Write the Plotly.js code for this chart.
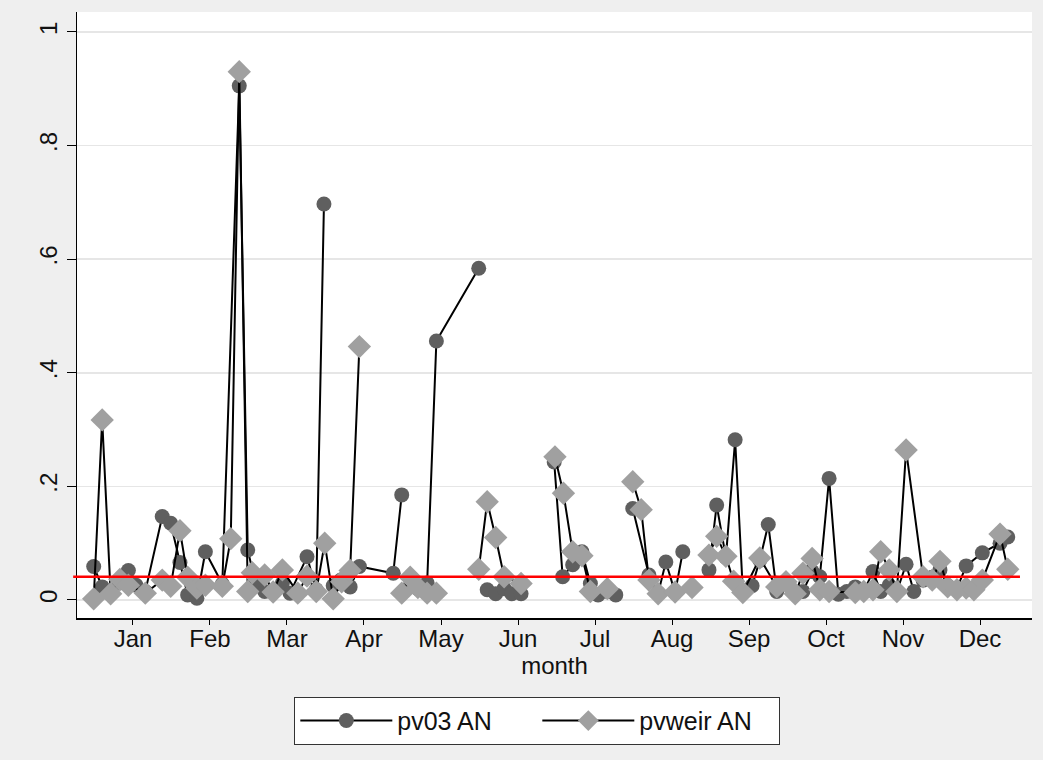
<!DOCTYPE html>
<html>
<head>
<meta charset="utf-8">
<script src="https://cdn.plot.ly/plotly-3.0.1.min.js"></script>
<style>
  html, body { margin: 0; padding: 0; background: #efefef; }
  #chart { width: 1043px; height: 760px; }
</style>
</head>
<body>
<div id="chart"></div>
<script>
// month ticks
const monthTicks = [1, 2, 3, 4, 5, 6, 7, 8, 9, 10, 11, 12];
const monthLabels = ["Jan", "Feb", "Mar", "Apr", "May", "Jun", "Jul", "Aug", "Sep", "Oct", "Nov", "Dec"];
const yTicks = [0, 0.2, 0.4, 0.6, 0.8, 1];
const yTickLabels = ["0", ".2", ".4", ".6", ".8", "1"];

// reference level (red line)
const threshold = 0.041;

// pv03 AN (null = break in line)
const pv03Month = [0.49, 0.60, 0.71, 0.82, 0.94, 1.04, 1.16, 1.38, 1.49, 1.61, 1.71, 1.83, 1.94, 2.16, 2.38, 2.49, 2.60, 2.71, 2.94, 3.04, 3.26, 3.38, 3.48, 3.54,
  3.60, 3.70, 3.82, 3.94, 4.38, 4.49, 4.54,
  4.60, 4.70, 4.82, 4.94, 5.49, 5.54,
  5.60, 5.71, 5.82, 5.92, 6.04, 6.30,
  6.47, 6.58, 6.71, 6.83, 6.94, 7.04, 7.16, 7.27, 7.40,
  7.49, 7.70, 7.82, 7.92, 8.04, 8.14, 8.30,
  8.48, 8.58, 8.70, 8.82, 8.92, 9.04, 9.14, 9.25, 9.36, 9.48, 9.60, 9.70, 9.82, 9.92, 10.04, 10.16, 10.27, 10.38, 10.49, 10.61, 10.71, 10.82, 10.92, 11.04, 11.14, 11.26, 11.38, 11.48, 11.58, 11.70, 11.82, 12.03, 12.26, 12.36];
const pv03Value = [0.059, 0.023, 0.015, 0.030, 0.052, 0.026, 0.015, 0.147, 0.135, 0.066, 0.009, 0.003, 0.085, 0.028, 0.905, 0.088, 0.025, 0.015, 0.030, 0.012, 0.076, 0.018, 0.697, null,
  0.025, 0.035, 0.023, 0.059, 0.047, 0.185, null,
  0.025, 0.020, 0.030, 0.456, 0.584, null,
  0.018, 0.011, 0.020, 0.011, 0.011, null,
  0.243, 0.041, 0.062, 0.085, 0.029, 0.009, 0.015, 0.009, null,
  0.161, 0.044, 0.012, 0.067, 0.013, 0.085, null,
  0.053, 0.167, 0.075, 0.282, 0.015, 0.025, 0.070, 0.133, 0.015, 0.030, 0.012, 0.015, 0.050, 0.041, 0.214, 0.010, 0.015, 0.023, 0.015, 0.050, 0.015, 0.026, 0.015, 0.063, 0.015, 0.035, 0.040, 0.053, 0.025, 0.020, 0.060, 0.083, 0.100, 0.111];

// pvweir AN (null = break in line)
const pvweirMonth = [0.49, 0.60, 0.71, 0.83, 0.94, 1.16, 1.38, 1.49, 1.61, 1.71, 1.83, 1.94, 2.16, 2.27, 2.38, 2.49, 2.55, 2.71, 2.82, 2.94, 3.14, 3.26, 3.38, 3.49, 3.60, 3.71, 3.82, 3.94, 4.20,
  4.49, 4.60, 4.70, 4.82, 4.94, 5.20,
  5.49, 5.60, 5.71, 5.82, 6.04, 6.30,
  6.48, 6.59, 6.71, 6.83, 6.94, 7.16, 7.40,
  7.49, 7.60, 7.70, 7.82, 8.04, 8.26, 8.40,
  8.48, 8.58, 8.70, 8.80, 8.92, 9.14, 9.36, 9.48, 9.60, 9.70, 9.82, 9.92, 10.04, 10.38, 10.49, 10.61, 10.71, 10.82, 10.92, 11.04, 11.26, 11.38, 11.48, 11.58, 11.70, 11.82, 11.92, 12.03, 12.26, 12.36];
const pvweirValue = [0.002, 0.317, 0.011, 0.036, 0.026, 0.012, 0.035, 0.024, 0.122, 0.040, 0.021, 0.026, 0.024, 0.108, 0.930, 0.015, 0.048, 0.044, 0.014, 0.053, 0.012, 0.042, 0.015, 0.100, 0.002, 0.032, 0.052, 0.446, null,
  0.012, 0.040, 0.022, 0.012, 0.012, null,
  0.054, 0.173, 0.110, 0.041, 0.029, null,
  0.252, 0.188, 0.085, 0.078, 0.015, 0.020, null,
  0.208, 0.159, 0.035, 0.011, 0.014, 0.022, null,
  0.079, 0.112, 0.077, 0.033, 0.013, 0.074, 0.023, 0.032, 0.011, 0.047, 0.073, 0.018, 0.015, 0.013, 0.015, 0.018, 0.085, 0.053, 0.015, 0.264, 0.041, 0.035, 0.068, 0.023, 0.018, 0.021, 0.018, 0.035, 0.116, 0.054];

const FONT = "Liberation Sans, Arial, sans-serif";

const traces = [
  {
    x: pv03Month, y: pv03Value, name: "pv03 AN", type: "scatter", mode: "lines+markers",
    connectgaps: false,
    line: { color: "#000000", width: 2 },
    marker: { symbol: "circle", size: 15, color: "#5f5f5f", line: { width: 0 } }
  },
  {
    x: pvweirMonth, y: pvweirValue, name: "pvweir AN", type: "scatter", mode: "lines+markers",
    connectgaps: false,
    line: { color: "#000000", width: 2 },
    marker: { symbol: "diamond", size: 18, color: "#a0a0a0", line: { width: 0 } }
  }
];

const layout = {
  width: 1043, height: 760,
  paper_bgcolor: "#efefef",
  plot_bgcolor: "#ffffff",
  margin: { l: 77, r: 11, t: 12, b: 142 },
  font: { family: FONT, size: 24, color: "#111111" },
  showlegend: true,
  xaxis: {
    range: [0.273, 12.675],
    tickmode: "array", tickvals: monthTicks, ticktext: monthLabels,
    ticks: "outside", ticklen: 5, tickwidth: 1, tickcolor: "#000",
    ticklabelstandoff: -6,
    showline: true, linecolor: "#000", linewidth: 1.5, mirror: false,
    showgrid: false, zeroline: false,
    tickfont: { family: FONT, size: 24, color: "#111" },
    title: { text: "month", font: { family: FONT, size: 24, color: "#111" }, standoff: 0 }
  },
  yaxis: {
    range: [-0.0317, 1.035],
    tickmode: "array", tickvals: yTicks, ticktext: yTickLabels,
    tickangle: -90,
    ticks: "outside", ticklen: 9, tickwidth: 1, tickcolor: "#000",
    showline: true, linecolor: "#000", linewidth: 1.5,
    showgrid: true, gridcolor: "#e6e6e6", gridwidth: 1.5,
    zeroline: false,
    tickfont: { family: FONT, size: 24, color: "#111" }
  },
  shapes: [
    {
      type: "line", xref: "paper", yref: "y",
      x0: -0.004, x1: 0.9874, y0: threshold, y1: threshold,
      line: { color: "#ff0000", width: 2.5 }, layer: "above"
    }
  ],
  legend: {
    orientation: "h",
    x: 0.482, xanchor: "center",
    y: -0.13, yanchor: "top",
    bgcolor: "#ffffff", bordercolor: "#333333", borderwidth: 1,
    font: { family: FONT, size: 25, color: "#111" },
    entrywidth: 135, itemwidth: 92
  }
};

Plotly.newPlot("chart", traces, layout, { displayModeBar: false, staticPlot: true });
</script>
</body>
</html>
